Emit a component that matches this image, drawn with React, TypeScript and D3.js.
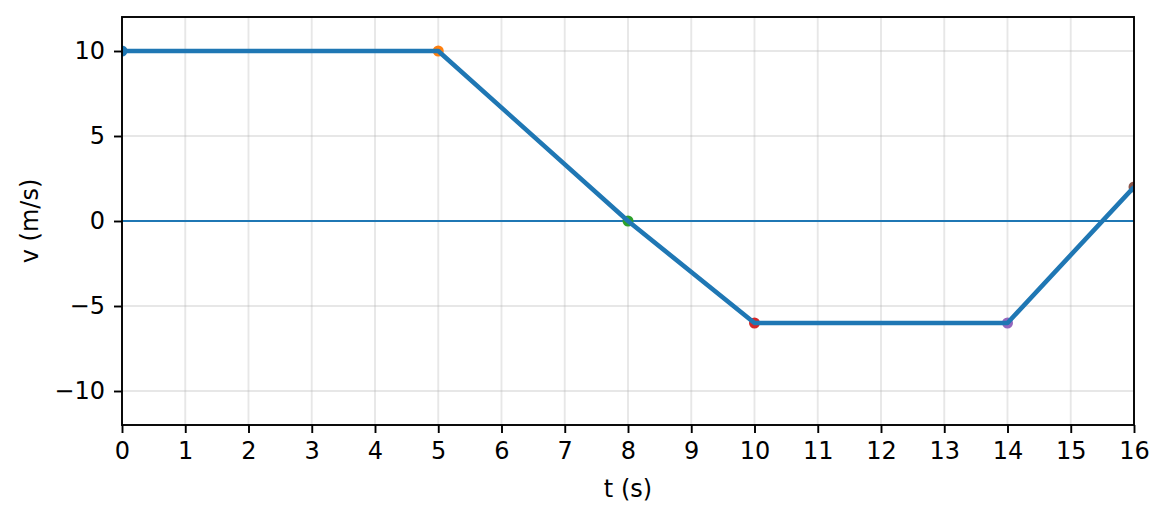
import React, { useEffect, useRef } from 'react';
import * as d3 from 'd3';

// velocity profile corners
const times = [0, 5, 8, 10, 14, 16];
const velocities = [10, 10, 0, -6, -6, 2];
const pointColors = ['#1f77b4', '#ff7f0e', '#2ca02c', '#d62728', '#9467bd', '#8c564b'];
const xTicks = d3.range(0, 17);
const yTicks = [-10, -5, 0, 5, 10];

const W = 1168;
const H = 519;
const FONT = 'DejaVu Sans, sans-serif';
const FS = 24;

const App: React.FC = () => {
  const svgRef = useRef<SVGSVGElement>(null);

  useEffect(() => {
    if (!svgRef.current) return;
    const svg = d3.select(svgRef.current);
    svg.selectAll('*').remove();

    const margin = { top: 17, right: 34, bottom: 94, left: 122 };
    const iw = W - margin.left - margin.right;
    const ih = H - margin.top - margin.bottom;

    const x = d3.scaleLinear().domain([0, 16]).range([0, iw]);
    const y = d3.scaleLinear().domain([-12, 12]).range([ih, 0]);

    const g = svg.append('g').attr('transform', `translate(${margin.left},${margin.top})`);

    svg.append('defs').append('clipPath').attr('id', 'plotclip')
      .append('rect').attr('width', iw).attr('height', ih);

    // grid
    g.append('g').selectAll('line').data(xTicks).join('line')
      .attr('x1', d => x(d)).attr('x2', d => x(d))
      .attr('y1', 0).attr('y2', ih)
      .attr('stroke', '#b0b0b0').attr('stroke-opacity', 0.3).attr('stroke-width', 1.9);
    g.append('g').selectAll('line').data(yTicks).join('line')
      .attr('y1', d => y(d)).attr('y2', d => y(d))
      .attr('x1', 0).attr('x2', iw)
      .attr('stroke', '#b0b0b0').attr('stroke-opacity', 0.3).attr('stroke-width', 1.9);

    const plot = g.append('g').attr('clip-path', 'url(#plotclip)');

    // zero line
    plot.append('line')
      .attr('x1', 0).attr('x2', iw)
      .attr('y1', y(0)).attr('y2', y(0))
      .attr('stroke', '#1f77b4').attr('stroke-width', 2.2);

    // corner markers
    plot.selectAll('circle').data(times).join('circle')
      .attr('cx', d => x(d))
      .attr('cy', (_, i) => y(velocities[i]))
      .attr('r', 5.5)
      .attr('fill', (_, i) => pointColors[i]);

    const line = d3.line<number>()
      .x(d => x(d))
      .y((_, i) => y(velocities[i]));

    plot.append('path')
      .datum(times)
      .attr('fill', 'none')
      .attr('stroke', '#1f77b4')
      .attr('stroke-width', 4.6)
      .attr('stroke-linejoin', 'round')
      .attr('d', line);

    // axes
    const xAxis = g.append('g')
      .attr('transform', `translate(0,${ih})`)
      .call(d3.axisBottom(x).tickValues(xTicks).tickSize(8).tickPadding(9).tickFormat(d3.format('d')));
    const yAxis = g.append('g')
      .call(d3.axisLeft(y).tickValues(yTicks).tickSize(8).tickPadding(9)
        .tickFormat(d => (+d < 0 ? '\u2212' + Math.abs(+d) : String(d))));

    [xAxis, yAxis].forEach(a => {
      a.select('.domain').remove();
      a.selectAll('line').attr('stroke', '#000').attr('stroke-width', 1.9);
      a.selectAll('text').attr('fill', '#000').attr('font-family', FONT).attr('font-size', FS);
    });

    // frame
    g.append('rect')
      .attr('width', iw).attr('height', ih)
      .attr('fill', 'none').attr('stroke', '#000').attr('stroke-width', 1.9);

    g.append('text')
      .attr('x', iw / 2).attr('y', ih + 72)
      .attr('text-anchor', 'middle')
      .attr('font-family', FONT).attr('font-size', FS)
      .text('t (s)');

    g.append('text')
      .attr('transform', `translate(${-margin.left + 38},${ih / 2}) rotate(-90)`)
      .attr('text-anchor', 'middle')
      .attr('font-family', FONT).attr('font-size', FS)
      .text('v (m/s)');
  }, []);

  return (
    <svg
      ref={svgRef}
      width={W}
      height={H}
      style={{ position: 'absolute', left: 0, top: 0, background: '#fff' }}
    />
  );
};

export default App;
